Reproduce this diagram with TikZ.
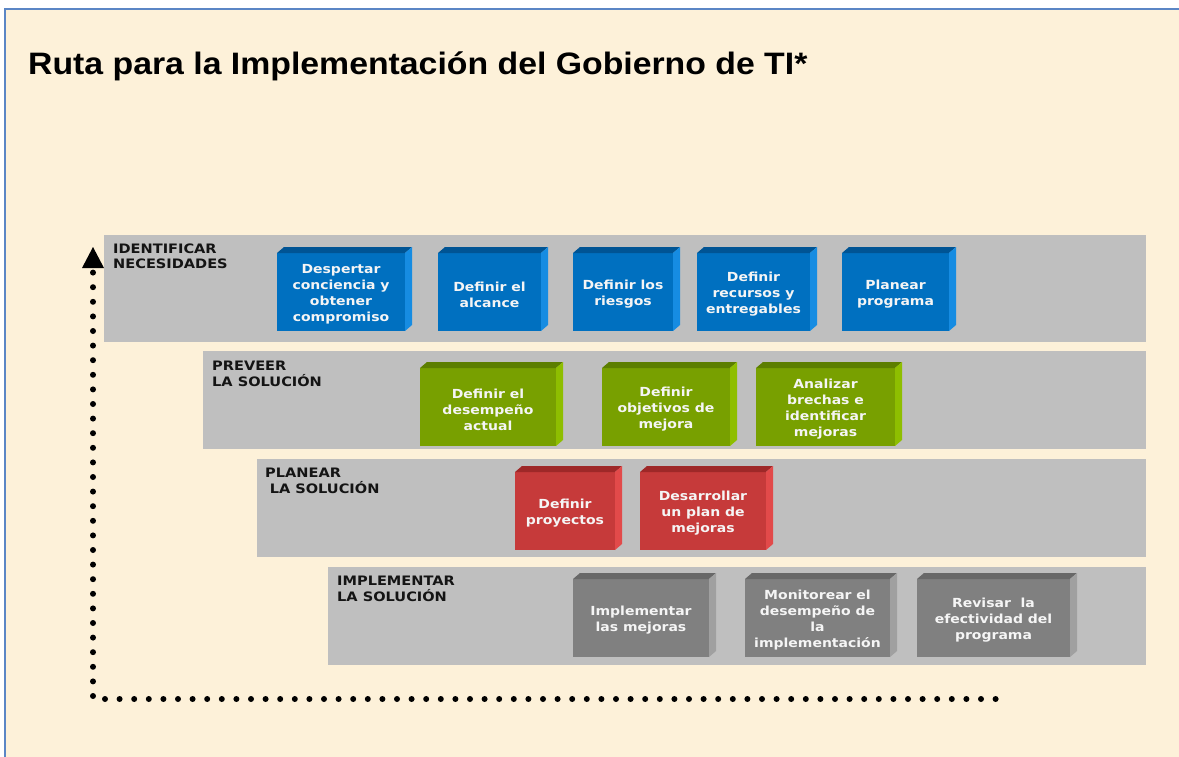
\documentclass[tikz,border=0pt]{standalone}
\usepackage{fontspec}
\setmainfont{Liberation Sans}
\newfontfamily\titlefont[FakeStretch=1.09]{Liberation Sans}
\newfontfamily\vfont[FakeStretch=1.12]{DejaVu Sans}
\usetikzlibrary{calc}
\definecolor{cream}{RGB}{253,241,217}
\definecolor{bordblue}{RGB}{91,134,197}
\definecolor{bandgray}{RGB}{191,191,191}
\definecolor{bluF}{RGB}{0,112,192}
\definecolor{bluT}{RGB}{0,84,148}
\definecolor{bluS}{RGB}{22,140,226}
\definecolor{grnF}{RGB}{120,160,0}
\definecolor{grnT}{RGB}{92,126,0}
\definecolor{grnS}{RGB}{142,190,0}
\definecolor{redF}{RGB}{198,58,58}
\definecolor{redT}{RGB}{158,40,40}
\definecolor{redS}{RGB}{226,74,74}
\definecolor{gryF}{RGB}{128,128,128}
\definecolor{gryT}{RGB}{104,104,104}
\definecolor{gryS}{RGB}{160,160,160}
\definecolor{boxtxt}{RGB}{245,245,245}
\definecolor{labtxt}{RGB}{20,20,20}
\tikzset{
  band/.style={fill=bandgray, inner sep=0pt, outer sep=0pt, anchor=north west},
  blkface/.style={inner sep=0pt, outer sep=0pt},
  blktext/.style={inner sep=0pt, outer sep=0pt, align=center, text=boxtxt,
    font=\vfont\bfseries\fontsize{12.5}{16}\selectfont},
  bandlabel/.style={anchor=base west, align=left, inner sep=0pt, text=labtxt,
    font=\vfont\bfseries\fontsize{13}{16}\selectfont},
  dotline/.style={line width=6pt, line cap=round, dash pattern=on 0pt off 14.6pt},
}
\newcommand{\blk}[7]{%
  \node[blkface, fill=#6F, minimum width={(#4-#2-7)*1pt}, minimum height={(#5-#3-6)*1pt}]
    (#1) at ({(#2+#4-7)/2},{(#3+6+#5)/2}) {};
  \fill[#6T] (#1.north west) -- ++(7,-6) -- ([shift={(7,-6)}]#1.north east) -- (#1.north east) -- cycle;
  \fill[#6S] (#1.north east) -- ++(7,-6) -- ([shift={(7,-6)}]#1.south east) -- (#1.south east) -- cycle;
  \node[blktext] (#1t) at ([yshift=-2.5pt]#1.center) {#7};
}
\begin{document}
\begin{tikzpicture}[x=1pt,y=-1pt]
\useasboundingbox (0,0) rectangle (1179,757);
\fill[white] (0,0) rectangle (1179,757);
\fill[cream] (5,9) rectangle (1179,757);
\draw[bordblue, line width=2pt] (5,757) -- (5,9) -- (1179,9);

\node[anchor=base west, inner sep=0pt, font=\titlefont\bfseries\fontsize{31}{34}\selectfont] (title) at (28,75) {Ruta para la Implementación del Gobierno de TI*};

% bands
\node[band, minimum width=1042pt, minimum height=107pt] (band1) at (104,235) {};
\node[band, minimum width=943pt, minimum height=98pt] (band2) at (203,351) {};
\node[band, minimum width=889pt, minimum height=98pt] (band3) at (257,459) {};
\node[band, minimum width=818pt, minimum height=98pt] (band4) at (328,567) {};

\node[bandlabel] (lab1) at (113,269) {IDENTIFICAR\\NECESIDADES};
\node[bandlabel] (lab2) at (212,386) {PREVEER\\LA SOLUCIÓN};
\node[bandlabel] (lab3) at (265,493) {PLANEAR\\\hspace*{0.35em}LA SOLUCIÓN};
\node[bandlabel] (lab4) at (337,601) {IMPLEMENTAR\\LA SOLUCIÓN};

% row 1
\blk{b1}{277}{247}{412}{331}{blu}{Despertar\\conciencia y\\obtener\\compromiso}
\blk{b2}{438}{247}{548}{331}{blu}{Definir el\\alcance}
\blk{b3}{573}{247}{680}{331}{blu}{Definir los\\riesgos}
\blk{b4}{697}{247}{817}{331}{blu}{Definir\\recursos y\\entregables}
\blk{b5}{842}{247}{956}{331}{blu}{Planear\\programa}
% row 2
\blk{g1}{420}{362}{563}{446}{grn}{Definir el\\desempeño\\actual}
\blk{g2}{602}{362}{737}{446}{grn}{Definir\\objetivos de\\mejora}
\blk{g3}{756}{362}{902}{446}{grn}{Analizar\\brechas e\\identificar\\mejoras}
% row 3
\blk{r1}{515}{466}{622}{550}{red}{Definir\\proyectos}
\blk{r2}{640}{466}{773}{550}{red}{Desarrollar\\un plan de\\mejoras}
% row 4
\blk{k1}{573}{573}{716}{657}{gry}{Implementar\\las mejoras}
\blk{k2}{745}{573}{897}{657}{gry}{Monitorear el\\desempeño de\\la\\implementación}
\blk{k3}{917}{573}{1077}{657}{gry}{Revisar\ \ la\\efectividad del\\programa}

% dotted path with arrow
\coordinate (vbot) at (93,696);
\coordinate (vtop) at (93,272);
\coordinate (hleft) at (105,699);
\coordinate (hright) at (1003,699);
\coordinate (atip) at (93,247);
\coordinate (abl) at (82,268);
\coordinate (abr) at (104,268);
\draw[dotline] (vbot) -- (vtop);
\draw[dotline] (hleft) -- (hright);
\fill[black] (atip) -- (abr) -- (abl) -- cycle;
\end{tikzpicture}
\end{document}
